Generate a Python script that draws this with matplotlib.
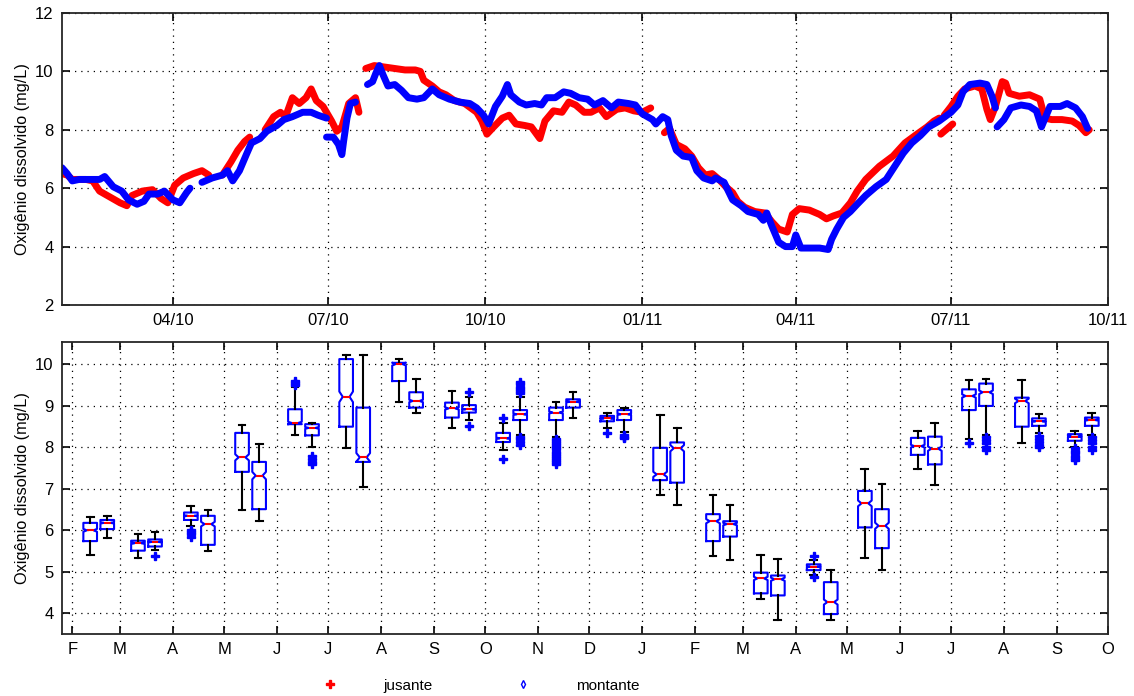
import numpy as np
import pandas as pd
import matplotlib
matplotlib.use('Agg')
import matplotlib.pyplot as plt
import matplotlib.dates as mdates
from matplotlib.lines import Line2D

plt.rcParams['font.family'] = ['Liberation Sans', 'DejaVu Sans']

# --- series (None = gap in record) ---
jus_dates = ['2010-01-26', '2010-01-29', '2010-02-01', '2010-02-09', '2010-02-13', '2010-02-17', '2010-02-23',
             '2010-03-01', '2010-03-05', '2010-03-08', '2010-03-14', '2010-03-20', '2010-03-25', '2010-03-29',
             '2010-04-02', '2010-04-07', '2010-04-13', '2010-04-18', '2010-04-22', '2010-04-26',
             '2010-04-30', '2010-05-05', '2010-05-09', '2010-05-13', '2010-05-16', '2010-05-20',
             '2010-05-25', '2010-05-30', '2010-06-03', '2010-06-06', '2010-06-10', '2010-06-14', '2010-06-18',
             '2010-06-21', '2010-06-24', '2010-06-28', '2010-07-03', '2010-07-06', '2010-07-09', '2010-07-13',
             '2010-07-17', '2010-07-19', '2010-07-21',
             '2010-07-23', '2010-07-28', '2010-08-03', '2010-08-09', '2010-08-15', '2010-08-21', '2010-08-24',
             '2010-08-26', '2010-08-31', '2010-09-04', '2010-09-08', '2010-09-13', '2010-09-19', '2010-09-26',
             '2010-09-29', '2010-10-02', '2010-10-06', '2010-10-11', '2010-10-15', '2010-10-19', '2010-10-24',
             '2010-10-28', '2010-11-02', '2010-11-05', '2010-11-10', '2010-11-15', '2010-11-19', '2010-11-23',
             '2010-11-28', '2010-12-02', '2010-12-07', '2010-12-11', '2010-12-17', '2010-12-22', '2010-12-27',
             '2011-01-01', '2011-01-06', '2011-01-10',
             '2011-01-14', '2011-01-17', '2011-01-21', '2011-01-26', '2011-01-30', '2011-02-03', '2011-02-07',
             '2011-02-11', '2011-02-15', '2011-02-19', '2011-02-23', '2011-02-26', '2011-03-02', '2011-03-08',
             '2011-03-14', '2011-03-18', '2011-03-22', '2011-03-27', '2011-03-30', '2011-04-03', '2011-04-09',
             '2011-04-15', '2011-04-19', '2011-04-23', '2011-04-28', '2011-05-03', '2011-05-07', '2011-05-12',
             '2011-05-20', '2011-05-28', '2011-06-04', '2011-06-11', '2011-06-17', '2011-06-21', '2011-06-24',
             '2011-06-25',
             '2011-06-25', '2011-06-29', '2011-07-02', '2011-07-02',
             '2011-06-27', '2011-07-01', '2011-07-05', '2011-07-09', '2011-07-15', '2011-07-19', '2011-07-22',
             '2011-07-24', '2011-07-27', '2011-07-31', '2011-08-02', '2011-08-04', '2011-08-10', '2011-08-16',
             '2011-08-22', '2011-08-25', '2011-08-29', '2011-09-04', '2011-09-10', '2011-09-14', '2011-09-18',
             '2011-09-20']
jus_vals = [6.5, 6.45, 6.3, 6.3, 6.25, 5.9, 5.7,
            5.5, 5.4, 5.75, 5.9, 5.95, 5.65, 5.5,
            6.1, 6.35, 6.5, 6.6, 6.45, None,
            6.45, 6.9, 7.3, 7.6, 7.75, None,
            8.0, 8.45, 8.6, 8.45, 9.1, 8.9, 9.1,
            9.4, 9.0, 8.8, 8.3, 7.95, 8.1, 8.9,
            9.1, 8.6, None,
            10.1, 10.2, 10.15, 10.1, 10.05, 10.05, 10.0,
            9.7, 9.5, 9.3, 9.2, 9.0, 8.9, 8.6,
            8.3, 7.85, 8.1, 8.4, 8.5, 8.2, 8.15,
            8.1, 7.7, 8.3, 8.65, 8.6, 8.95, 8.85,
            8.6, 8.6, 8.75, 8.45, 8.7, 8.75, 8.65,
            8.6, 8.75, None,
            7.9, 8.05, 7.5, 7.35, 7.1, 6.7, 6.45,
            6.5, 6.3, 6.05, 5.85, 5.55, 5.35, 5.2,
            5.15, 4.85, 4.6, 4.5, 5.1, 5.3, 5.25,
            5.1, 4.95, 5.05, 5.15, 5.5, 5.9, 6.3,
            6.75, 7.1, 7.55, 7.85, 8.1, 8.3, 8.4,
            None,
            7.85, 8.05, 8.2, None,
            8.5, 8.8, 9.15, 9.4, 9.5, 9.4, 8.7,
            8.35, 8.8, 9.65, 9.6, 9.25, 9.15, 9.2,
            9.05, 8.4, 8.35, 8.35, 8.3, 8.15, 7.9,
            8.0]

mon_dates = ['2010-01-26', '2010-01-29', '2010-02-01', '2010-02-05', '2010-02-11', '2010-02-17', '2010-02-20',
             '2010-02-25', '2010-03-02', '2010-03-06', '2010-03-11', '2010-03-15', '2010-03-18', '2010-03-23',
             '2010-03-27', '2010-04-01', '2010-04-05', '2010-04-09', '2010-04-11', '2010-04-14',
             '2010-04-18', '2010-04-24', '2010-04-30', '2010-05-03', '2010-05-06', '2010-05-10', '2010-05-14',
             '2010-05-17', '2010-05-22', '2010-05-26', '2010-06-01', '2010-06-05', '2010-06-10', '2010-06-16',
             '2010-06-21', '2010-06-25', '2010-06-30', '2010-06-30',
             '2010-06-30', '2010-07-04', '2010-07-07', '2010-07-09', '2010-07-10', '2010-07-12', '2010-07-14',
             '2010-07-17', '2010-07-18',
             '2010-07-24', '2010-07-27', '2010-07-29', '2010-07-31', '2010-08-02', '2010-08-05', '2010-08-09',
             '2010-08-13', '2010-08-17', '2010-08-22', '2010-08-26', '2010-08-31', '2010-09-04', '2010-09-10',
             '2010-09-16', '2010-09-22', '2010-09-26', '2010-09-30', '2010-10-03', '2010-10-07', '2010-10-11',
             '2010-10-14', '2010-10-16', '2010-10-21', '2010-10-25', '2010-10-30', '2010-11-03', '2010-11-06',
             '2010-11-11', '2010-11-16', '2010-11-20', '2010-11-25', '2010-11-30', '2010-12-04', '2010-12-09',
             '2010-12-14', '2010-12-18', '2010-12-24', '2010-12-28', '2011-01-01', '2011-01-07', '2011-01-09',
             '2011-01-13', '2011-01-16', '2011-01-18', '2011-01-21', '2011-01-25', '2011-01-30', '2011-02-02',
             '2011-02-06', '2011-02-11', '2011-02-13', '2011-02-18', '2011-02-23', '2011-02-28', '2011-03-04',
             '2011-03-10', '2011-03-13', '2011-03-15', '2011-03-18', '2011-03-22', '2011-03-26', '2011-03-30',
             '2011-04-01', '2011-04-04', '2011-04-09', '2011-04-15', '2011-04-20', '2011-04-22', '2011-04-25',
             '2011-04-29', '2011-05-03', '2011-05-07', '2011-05-12', '2011-05-18', '2011-05-24', '2011-05-29',
             '2011-06-03', '2011-06-08', '2011-06-13', '2011-06-18', '2011-06-24', '2011-07-01', '2011-07-05',
             '2011-07-08', '2011-07-12', '2011-07-18', '2011-07-22', '2011-07-25', '2011-07-27', '2011-07-28',
             '2011-07-28', '2011-08-01', '2011-08-05', '2011-08-11', '2011-08-16', '2011-08-20', '2011-08-23',
             '2011-08-28', '2011-09-03', '2011-09-07', '2011-09-12', '2011-09-16', '2011-09-19']
mon_vals = [6.7, 6.5, 6.25, 6.3, 6.3, 6.3, 6.4,
            6.05, 5.9, 5.6, 5.45, 5.55, 5.8, 5.8,
            5.9, 5.6, 5.5, 5.85, 6.0, None,
            6.2, 6.35, 6.45, 6.6, 6.25, 6.6, 7.15,
            7.55, 7.7, 7.95, 8.15, 8.35, 8.45, 8.6,
            8.6, 8.5, 8.4, None,
            7.75, 7.75, 7.5, 7.15, 7.6, 8.4, 8.9,
            8.95, None,
            9.55, 9.65, 9.95, 10.2, 9.9, 9.5, 9.55,
            9.35, 9.1, 9.05, 9.1, 9.4, 9.2, 9.05,
            8.95, 8.9, 8.75, 8.5, 8.2, 8.8, 9.15,
            9.55, 9.2, 8.95, 8.85, 8.9, 8.85, 9.1,
            9.1, 9.3, 9.25, 9.1, 9.05, 8.85, 9.0,
            8.75, 8.95, 8.9, 8.85, 8.55, 8.35, 8.2,
            8.45, 8.35, 7.8, 7.3, 7.1, 7.05, 6.6,
            6.35, 6.25, 6.35, 6.2, 5.6, 5.4, 5.2,
            5.1, 4.9, 5.15, 4.7, 4.15, 4.0, 4.0,
            4.4, 3.95, 3.95, 3.95, 3.9, 4.25, 4.6,
            5.0, 5.2, 5.45, 5.75, 6.05, 6.3, 6.75,
            7.2, 7.55, 7.8, 8.1, 8.3, 8.6, 8.85,
            9.3, 9.55, 9.6, 9.55, 9.15, 8.75, None,
            8.1, 8.35, 8.75, 8.85, 8.8, 8.65, 8.1,
            8.8, 8.8, 8.9, 8.75, 8.45, 8.05]

# --- monthly box statistics (bottom panel) ---
box_months = ['2010-02-01', '2010-03-01', '2010-04-01', '2010-05-01', '2010-06-01', '2010-07-01', '2010-08-01',
              '2010-09-01', '2010-10-01', '2010-11-01', '2010-12-01', '2011-01-01', '2011-02-01', '2011-03-01',
              '2011-04-01', '2011-05-01', '2011-06-01', '2011-07-01', '2011-08-01', '2011-09-01']

jus_q1 = [5.74, 5.51, 6.25, 7.41, 8.56, 8.50, 9.60, 8.72, 8.13, 8.66, 8.63, 7.21, 5.74, 4.48, 5.04, 6.07, 7.82, 8.90, 8.50, 8.16]
jus_med = [6.00, 5.69, 6.35, 7.76, 8.59, 9.22, 10.01, 8.94, 8.22, 8.84, 8.70, 7.35, 6.22, 4.84, 5.12, 6.65, 8.03, 9.24, 9.12, 8.26]
jus_q3 = [6.18, 5.75, 6.43, 8.35, 8.92, 10.13, 10.04, 9.08, 8.35, 8.96, 8.76, 7.99, 6.39, 4.98, 5.18, 6.95, 8.23, 9.40, 9.20, 8.32]
jus_lo = [5.41, 5.34, 6.10, 6.49, 8.30, 7.98, 9.10, 8.46, 7.94, 8.26, 8.46, 6.85, 5.38, 4.34, 4.92, 5.34, 7.49, 8.20, 8.10, 8.02]
jus_hi = [6.31, 5.92, 6.59, 8.55, 9.46, 10.24, 10.13, 9.36, 8.58, 9.10, 8.82, 8.78, 6.85, 5.41, 5.29, 7.49, 8.39, 9.62, 9.62, 8.39]
jus_out = [[], [], [6.0, 5.95, 5.9, 5.85], [], [9.5, 9.55, 9.6], [], [], [], [8.71, 7.73],
           [8.2, 8.15, 8.1, 8.05, 8.0, 7.95, 7.9, 7.85, 7.8, 7.75, 7.7, 7.65, 7.6],
           [8.34], [], [], [], [5.37, 4.87], [], [], [8.1], [], [7.98, 7.92, 7.86, 7.8, 7.74, 7.7]]

mon_q1 = [6.03, 5.61, 5.65, 6.51, 8.29, 7.65, 8.96, 8.84, 8.66, 8.96, 8.66, 7.15, 5.85, 4.43, 3.98, 5.57, 7.59, 9.00, 8.52, 8.52]
mon_med = [6.18, 5.72, 6.15, 7.32, 8.47, 7.76, 9.12, 8.92, 8.80, 9.10, 8.80, 7.98, 6.15, 4.82, 4.27, 6.11, 7.97, 9.33, 8.63, 8.66]
mon_q3 = [6.25, 5.78, 6.35, 7.65, 8.56, 8.96, 9.33, 9.02, 8.90, 9.16, 8.90, 8.12, 6.22, 4.91, 4.75, 6.51, 8.26, 9.54, 8.70, 8.72]
mon_lo = [5.81, 5.53, 5.49, 6.22, 8.00, 7.05, 8.84, 8.66, 8.30, 8.72, 8.38, 6.61, 5.29, 3.84, 3.84, 5.04, 7.09, 8.30, 8.34, 8.30]
mon_hi = [6.35, 5.95, 6.48, 8.09, 8.59, 10.24, 9.65, 9.22, 9.22, 9.33, 8.96, 8.46, 6.61, 5.31, 5.04, 7.12, 8.59, 9.66, 8.80, 8.84]
mon_out = [[], [5.37], [], [], [7.79, 7.72, 7.65, 7.61], [], [], [9.34, 8.52],
           [9.58, 9.52, 9.46, 9.4, 9.35, 9.3, 8.26, 8.2, 8.13, 8.06], [], [8.3, 8.26, 8.22], [], [], [], [], [], [],
           [8.26, 8.18, 8.1, 8.02, 7.94], [8.27, 8.2, 8.13, 8.06, 8.0], [8.26, 8.18, 8.1, 8.02, 7.94]]

month_letters = ['F', 'M', 'A', 'M', 'J', 'J', 'A', 'S', 'O', 'N', 'D',
                 'J', 'F', 'M', 'A', 'M', 'J', 'J', 'A', 'S', 'O']
top_ticks = ['2010-04-01', '2010-07-01', '2010-10-01', '2011-01-01', '2011-04-01', '2011-07-01', '2011-10-01']

x_start, x_end = pd.Timestamp('2010-01-26'), pd.Timestamp('2011-10-01')
grid_style = dict(color='black', linestyle=(0, (1, 4)), linewidth=0.9)


def to_array(vals):
    return np.array([np.nan if v is None else v for v in vals], dtype=float)


def stats_list(q1, med, q3, lo, hi, out, n=400):
    res = []
    for a, m, b, l, h, f in zip(q1, med, q3, lo, hi, out):
        half = 1.57 * (b - a) / np.sqrt(n)
        res.append(dict(q1=a, med=m, q3=b, whislo=l, whishi=h, fliers=f, cilo=m - half, cihi=m + half))
    return res


fig = plt.figure(figsize=(11.34, 6.96), dpi=100)
ax1 = fig.add_axes([0.0547, 0.5618, 0.9224, 0.4195])
ax2 = fig.add_axes([0.0547, 0.0891, 0.9224, 0.4200])

# top: time series
ax1.plot(pd.to_datetime(jus_dates), to_array(jus_vals), color='red', lw=5,
         solid_joinstyle='round', solid_capstyle='round')
ax1.plot(pd.to_datetime(mon_dates), to_array(mon_vals), color='blue', lw=5,
         solid_joinstyle='round', solid_capstyle='round')
ax1.set_xlim(x_start, x_end)
ax1.set_ylim(2, 12)
ax1.set_yticks(range(2, 13, 2))
ax1.set_xticks(pd.to_datetime(top_ticks))
ax1.xaxis.set_major_formatter(mdates.DateFormatter('%m/%y'))
ax1.grid(True, **grid_style)
ax1.set_ylabel('Oxigênio dissolvido (mg/L)', fontsize=11.7)

# bottom: monthly boxplots
mnum = mdates.date2num(pd.to_datetime(box_months))
box_kw = dict(widths=8, shownotches=True, manage_ticks=False, capwidths=4,
              boxprops=dict(color='blue', lw=1.5),
              medianprops=dict(color='red', lw=1.5),
              whiskerprops=dict(color='black', lw=1.5),
              capprops=dict(color='black', lw=1.5),
              flierprops=dict(marker='P', markerfacecolor='blue', markeredgecolor='blue',
                              markersize=6, linestyle='none'))
ax2.bxp(stats_list(jus_q1, jus_med, jus_q3, jus_lo, jus_hi, jus_out), positions=mnum + 10.5, **box_kw)
ax2.bxp(stats_list(mon_q1, mon_med, mon_q3, mon_lo, mon_hi, mon_out), positions=mnum + 20.5, **box_kw)
ax2.set_xlim(mdates.date2num(x_start), mdates.date2num(x_end))
ax2.set_ylim(3.5, 10.55)
ax2.set_yticks(range(4, 11))
ax2.set_xticks(mdates.date2num(pd.date_range('2010-02-01', '2011-10-01', freq='MS')))
ax2.set_xticklabels(month_letters)
ax2.grid(True, **grid_style)
ax2.set_ylabel('Oxigênio dissolvido (mg/L)', fontsize=11.7)

for ax in (ax1, ax2):
    ax.tick_params(direction='in', top=True, right=True, length=6, width=1.2, labelsize=12, pad=6)
    for sp in ax.spines.values():
        sp.set_linewidth(1.3)
        sp.set_color('#262626')

handles = [Line2D([], [], color='red', marker='P', markersize=6, linestyle='none'),
           Line2D([], [], color='blue', marker='d', markersize=4, fillstyle='none', markeredgewidth=1,
                  linestyle='none')]
fig.legend(handles, ['jusante', 'montante'], loc='center', bbox_to_anchor=(0.414, 0.015), ncol=2,
           frameon=False, fontsize=11, handlelength=4, handletextpad=1.5, columnspacing=3.9)

fig.savefig('out.png', dpi=100)
